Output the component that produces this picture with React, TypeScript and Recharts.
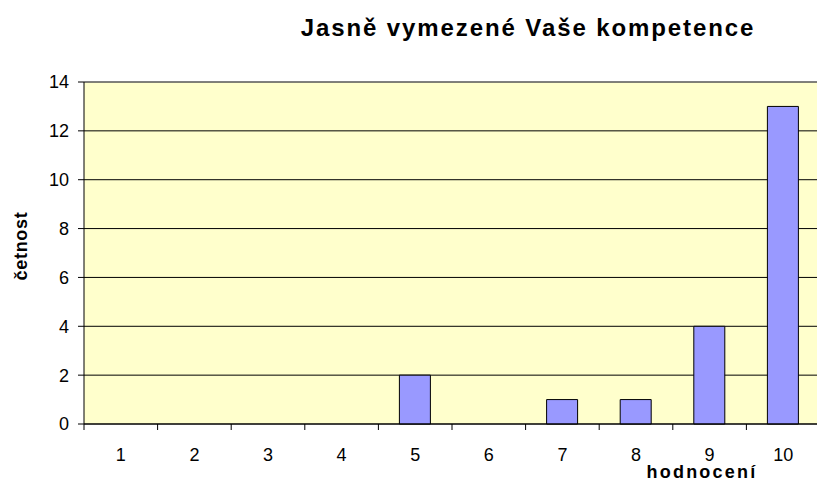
import { Bar, BarChart, CartesianGrid, ReferenceLine, XAxis, YAxis } from 'recharts';

const RATINGS = ['1', '2', '3', '4', '5', '6', '7', '8', '9', '10'];
const COUNTS = [0, 0, 0, 0, 2, 0, 1, 1, 4, 13];
const Y_TICKS = [0, 2, 4, 6, 8, 10, 12, 14];

const TITLE = 'Jasně vymezené Vaše kompetence';
const X_TITLE = 'hodnocení';
const Y_TITLE = 'četnost';

const FONT = '"Liberation Sans", Arial, sans-serif';

const data = RATINGS.map((rating, i) => ({ rating, count: COUNTS[i] }));

// tick line sits on the category boundary, label in the middle (Excel style)
function RatingTick(props: any) {
  const { x, y, payload } = props;
  const half = payload?.offset || 36.8;
  return (
    <g>
      <line x1={x - half} x2={x - half} y1={y} y2={y + 6} stroke="#000" />
      <text x={x} y={y + 37} textAnchor="middle" fontSize={18} fill="#000" fontFamily={FONT}>
        {payload.value}
      </text>
    </g>
  );
}

export default function App() {
  return (
    <div
      style={{
        position: 'absolute',
        left: 0,
        top: 0,
        width: 817,
        height: 481,
        overflow: 'hidden',
        background: '#fff',
      }}
    >
      <BarChart
        width={820}
        height={481}
        data={data}
        barSize={31}
        margin={{ top: 82, right: 0, bottom: 0, left: 0 }}
      >
        <CartesianGrid vertical={false} stroke="#000" fill="#FFFFCC" fillOpacity={1} />
        <XAxis
          dataKey="rating"
          height={57}
          axisLine={{ stroke: '#000' }}
          tickLine={false}
          tickSize={0}
          tickMargin={0}
          interval={0}
          tick={<RatingTick />}
        />
        <YAxis
          width={84}
          domain={[0, 14]}
          ticks={Y_TICKS}
          interval={0}
          axisLine={{ stroke: '#000' }}
          tickLine={{ stroke: '#000' }}
          tickSize={6}
          tickMargin={9}
          tick={{ fontSize: 18, fill: '#000', fontFamily: FONT }}
        />
        <ReferenceLine y={14} stroke="#808080" />
        <Bar dataKey="count" fill="#9999FF" stroke="#000" strokeWidth={1} isAnimationActive={false} />
      </BarChart>
      <svg
        width={817}
        height={481}
        style={{ position: 'absolute', left: 0, top: 0, pointerEvents: 'none' }}
      >
        <text
          x={528}
          y={36}
          textAnchor="middle"
          fontSize={24}
          fontWeight="bold"
          letterSpacing={1.9}
          fontFamily={FONT}
        >
          {TITLE}
        </text>
        <text
          x={702}
          y={478}
          textAnchor="middle"
          fontSize={18}
          fontWeight="bold"
          letterSpacing={2.2}
          fontFamily={FONT}
        >
          {X_TITLE}
        </text>
        <text
          transform="translate(27,246) rotate(-90)"
          textAnchor="middle"
          fontSize={18}
          fontWeight="bold"
          letterSpacing={0.7}
          fontFamily={FONT}
        >
          {Y_TITLE}
        </text>
      </svg>
    </div>
  );
}
